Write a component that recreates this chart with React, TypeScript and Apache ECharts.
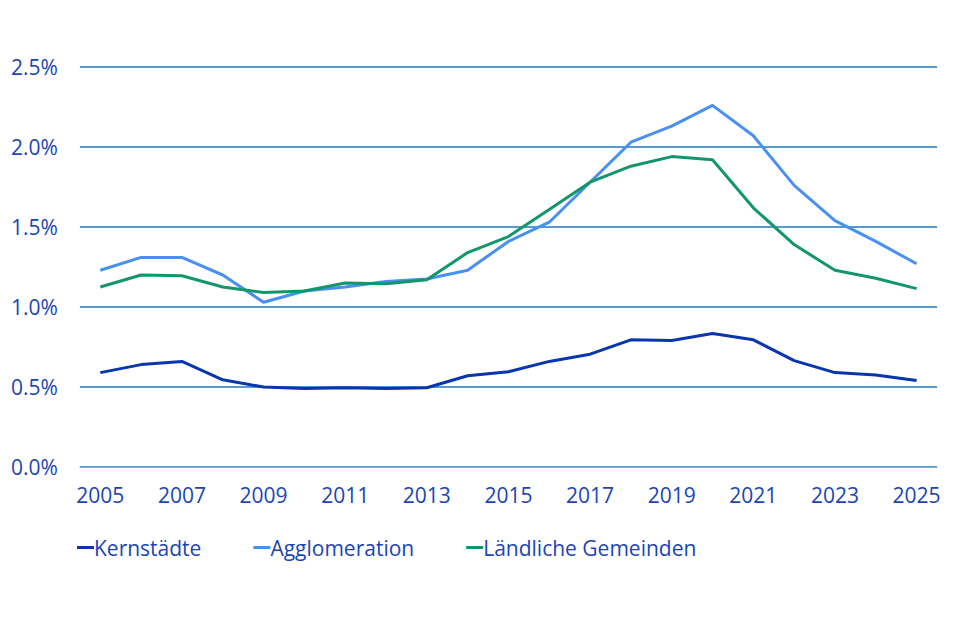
import React, { useEffect, useRef } from "react";
import * as echarts from "echarts";

const years = ["2005","2006","2007","2008","2009","2010","2011","2012","2013","2014","2015","2016","2017","2018","2019","2020","2021","2022","2023","2024","2025"];
const kernstaedte = [0.59,0.64,0.66,0.545,0.50,0.49,0.495,0.49,0.495,0.57,0.595,0.66,0.705,0.795,0.79,0.835,0.795,0.665,0.59,0.575,0.54];
const agglomeration = [1.23,1.31,1.31,1.20,1.03,1.10,1.125,1.16,1.175,1.23,1.41,1.53,1.78,2.03,2.13,2.26,2.07,1.76,1.54,1.41,1.27];
const laendliche = [1.125,1.20,1.195,1.125,1.09,1.10,1.15,1.145,1.17,1.34,1.44,1.61,1.78,1.88,1.94,1.92,1.62,1.39,1.23,1.18,1.115];

const TEXT = "#1b45b4";
const FONT = "Open Sans";

export default function App() {
  const ref = useRef<HTMLDivElement>(null);
  useEffect(() => {
    const chart = echarts.init(ref.current!, undefined, { renderer: "svg" });
    const mk = (name: string, data: number[], color: string) => ({
      name,
      type: "line",
      data,
      symbol: "none",
      lineStyle: { color, width: 3 },
      itemStyle: { color },
    });
    chart.setOption({
      animation: false,
      textStyle: { fontFamily: FONT },
      grid: { left: 67, right: 15, top: 59, bottom: 165 },
      legend: {
        left: 64,
        top: 524,
        icon: "rect",
        itemWidth: 17,
        itemHeight: 3,
        itemGap: 52,
        textStyle: { color: TEXT, fontSize: 21, fontFamily: FONT, padding: [0, 0, 0, -5] },
        data: ["Kernstädte", "Agglomeration", "Ländliche Gemeinden"],
      },
      xAxis: {
        type: "category",
        data: years,
        boundaryGap: true,
        axisLine: { show: true, lineStyle: { color: "#8ea6e0", width: 1 } },
        axisTick: { show: false },
        axisLabel: { interval: 1, color: TEXT, fontSize: 21, fontFamily: FONT, margin: 17 },
      },
      yAxis: {
        type: "value",
        min: 0,
        max: 2.5,
        interval: 0.5,
        axisLine: { show: false },
        axisTick: { show: false },
        splitLine: { lineStyle: { color: "#1f78c4", width: 1.5 } },
        axisLabel: {
          color: TEXT,
          fontSize: 21,
          fontFamily: FONT,
          margin: 22,
          formatter: (v: number) => v.toFixed(1) + "%",
        },
      },
      series: [
        mk("Kernstädte", kernstaedte, "#0a36ad"),
        mk("Agglomeration", agglomeration, "#4a8ff2"),
        mk("Ländliche Gemeinden", laendliche, "#12966a"),
      ],
    });
    return () => chart.dispose();
  }, []);
  return <div ref={ref} style={{ width: 944, height: 624 }} />;
}
